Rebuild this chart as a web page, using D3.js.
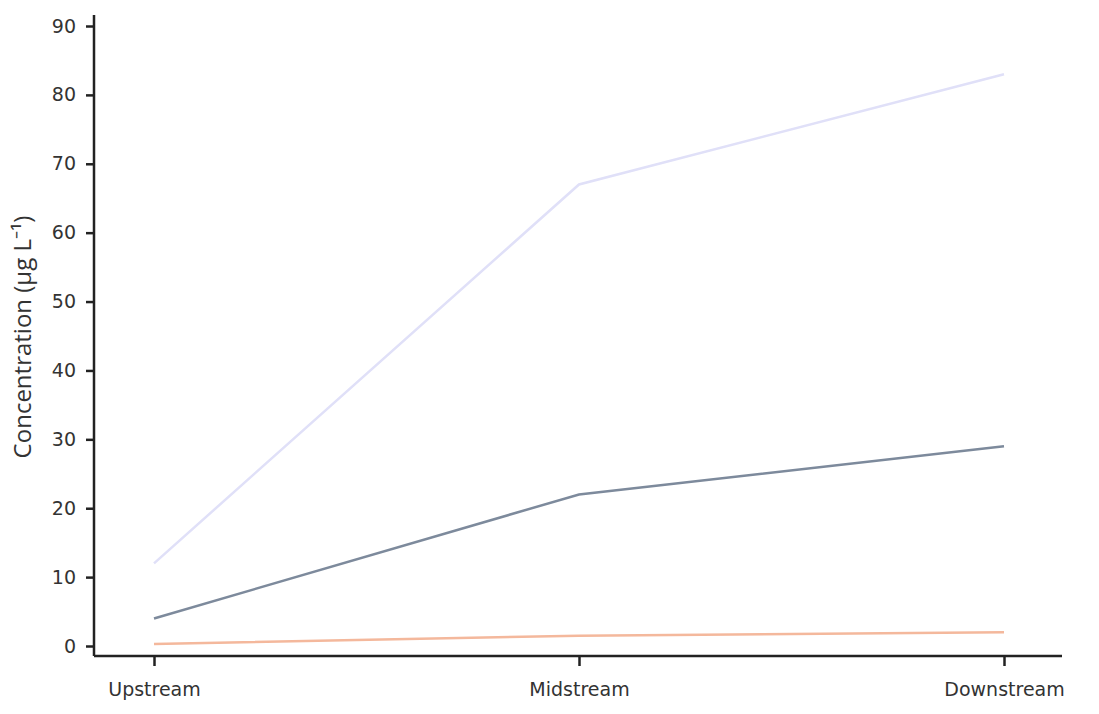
<!DOCTYPE html>
<html>
<head>
<meta charset="utf-8">
<script src="https://cdn.jsdelivr.net/npm/d3@7"></script>
<style>
  html, body { margin: 0; padding: 0; background: #fff; }
  svg { display: block; }
  .tick text { font-family: "DejaVu Sans", Verdana, sans-serif; fill: #333; }
</style>
</head>
<body>
<svg id="chart" width="1099" height="714"></svg>
<script>
// Sampling sites along the river
const sites = ["Upstream", "Midstream", "Downstream"];

// Concentrations (µg L⁻¹) per series at each site
const seriesHigh = [12, 67, 83];
const seriesMid = [4, 22, 29];
const seriesLow = [0.3, 1.5, 2.0];

const yTicks = [0, 10, 20, 30, 40, 50, 60, 70, 80, 90];

const series = [
  { values: seriesHigh, color: "#e0e0f8" },
  { values: seriesMid, color: "#7d8a9c" },
  { values: seriesLow, color: "#f4b89c" }
];

const svg = d3.select("#chart");
const plotLeft = 94, plotRight = 1062, plotTop = 15, plotBottom = 656;

const x = d3.scalePoint().domain(sites).range([154, 1004]);
const y = d3.scaleLinear().domain([0, 90]).range([646, 26]);

// Lines
const line = d3.line().x((d, i) => x(sites[i])).y(d => y(d));
series.forEach(s => {
  svg.append("path")
    .datum(s.values)
    .attr("fill", "none")
    .attr("stroke", s.color)
    .attr("stroke-width", 2.5)
    .attr("d", line);
});

// Y axis
const yAxis = svg.append("g")
  .attr("transform", `translate(${plotLeft},0)`)
  .attr("font-size", 19)
  .call(d3.axisLeft(y).tickValues(yTicks).tickSize(8).tickPadding(10));
yAxis.attr("font-size", 19);
yAxis.select(".domain").remove();
yAxis.selectAll(".tick line").attr("stroke", "#222").attr("stroke-width", 2.5);
svg.append("line")
  .attr("x1", plotLeft).attr("x2", plotLeft).attr("y1", plotTop).attr("y2", plotBottom)
  .attr("stroke", "#222").attr("stroke-width", 2.5);

// X axis
const xAxis = svg.append("g")
  .attr("transform", `translate(0,${plotBottom})`)
  .call(d3.axisBottom(x).tickSize(10).tickPadding(17));
xAxis.attr("font-size", 19);
xAxis.select(".domain").remove();
xAxis.selectAll(".tick line").attr("stroke", "#222").attr("stroke-width", 2.5);
svg.append("line")
  .attr("x1", plotLeft).attr("x2", plotRight).attr("y1", plotBottom).attr("y2", plotBottom)
  .attr("stroke", "#222").attr("stroke-width", 2.5);

// Y axis title
svg.append("text")
  .attr("transform", `translate(31,337) rotate(-90)`)
  .attr("text-anchor", "middle")
  .style("font-family", "'Open Sans', sans-serif")
  .style("font-size", "24px")
  .style("fill", "#333")
  .text("Concentration (µg L⁻¹)");
</script>
</body>
</html>
